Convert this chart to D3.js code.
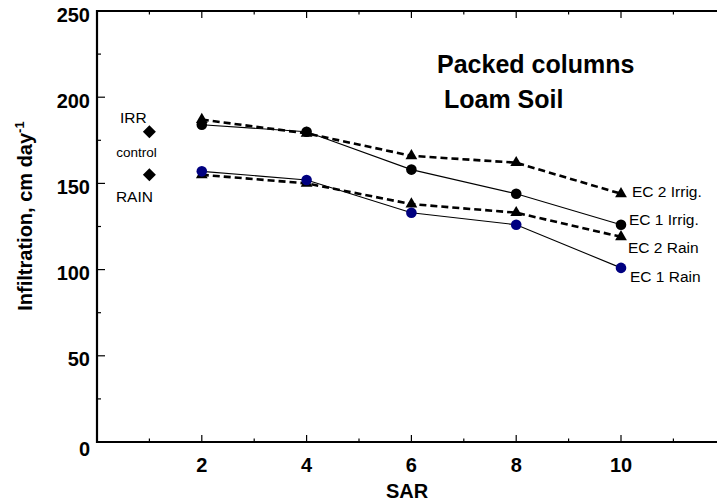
<!DOCTYPE html>
<html><head><meta charset="utf-8">
<script src="https://cdn.jsdelivr.net/npm/d3@7"></script>
<style>body{margin:0;background:#fff}svg{display:block}</style>
</head><body>
<svg id="c" width="717" height="504"></svg>
<script>
// ---- data ----
const sar = [2, 4, 6, 8, 10];
const ec2Irrig = [187, 179, 166, 162, 144];
const ec1Irrig = [184, 180, 158, 144, 126];
const ec2Rain  = [155, 150, 138, 133, 119];
const ec1Rain  = [157, 152, 133, 126, 101];
const seriesNames = ["EC 2 Irrig.", "EC 1 Irrig.", "EC 2 Rain", "EC 1 Rain"];
const controlSar = 1;
const controlValues = [180, 155];
const controlLabels = ["IRR", "RAIN"];
const controlNote = "control";
const xMajorTicks = [2, 4, 6, 8, 10];
const yMajorTicks = [0, 50, 100, 150, 200, 250];
const titleLines = ["Packed columns", "Loam Soil"];

// ---- layout ----
const svg = d3.select("#c");
const FONT = "'Liberation Sans', Arial, Helvetica, sans-serif";
const L = 97, T = 11, B = 442;
const x = d3.scaleLinear().domain([0, 12]).range([L, L + 12 * 52.4]);
const y = d3.scaleLinear().domain([0, 250]).range([B, T]);

const series = [
  {name: seriesNames[0], vals: ec2Irrig, marker: "tri", dash: true, color: "#000", lx: 11, ly: 3},
  {name: seriesNames[1], vals: ec1Irrig, marker: "circ", dash: false, color: "#000", lx: 8, ly: 0},
  {name: seriesNames[2], vals: ec2Rain, marker: "tri", dash: true, color: "#000", lx: 7, ly: 16},
  {name: seriesNames[3], vals: ec1Rain, marker: "circ", dash: false, color: "#000080", lx: 9, ly: 14}
];

// axes
const minorX = d3.range(1, 12, 2);
const minorY = d3.range(25, 250, 50);
const ax = svg.append("g").attr("stroke", "#000");
ax.append("line").attr("x1", L).attr("x2", 717).attr("y1", B).attr("y2", B).attr("stroke-width", 2.2);
ax.append("line").attr("x1", L).attr("x2", 717).attr("y1", T).attr("y2", T).attr("stroke-width", 2.2);
ax.append("line").attr("x1", L).attr("x2", L).attr("y1", T - 1).attr("y2", B + 1).attr("stroke-width", 2.2);

xMajorTicks.concat([12]).forEach(v => {
  ax.append("line").attr("x1", x(v)).attr("x2", x(v)).attr("y1", B).attr("y2", B - 7).attr("stroke-width", 1.2);
  ax.append("line").attr("x1", x(v)).attr("x2", x(v)).attr("y1", T).attr("y2", T + 7).attr("stroke-width", 1.2);
});
minorX.forEach(v => {
  ax.append("line").attr("x1", x(v)).attr("x2", x(v)).attr("y1", B).attr("y2", B - 3.5).attr("stroke-width", 1.2);
  ax.append("line").attr("x1", x(v)).attr("x2", x(v)).attr("y1", T).attr("y2", T + 3.5).attr("stroke-width", 1.2);
});
yMajorTicks.forEach(v => {
  ax.append("line").attr("x1", L).attr("x2", L + 8).attr("y1", y(v)).attr("y2", y(v)).attr("stroke-width", 1.2);
});
minorY.forEach(v => {
  ax.append("line").attr("x1", L).attr("x2", L + 4).attr("y1", y(v)).attr("y2", y(v)).attr("stroke-width", 1.2);
});

// tick labels
svg.append("g").selectAll("text").data(yMajorTicks).join("text")
  .attr("x", 90).attr("y", d => y(d) + (d === 0 ? 14 : 10.5))
  .attr("text-anchor", "end").attr("font-family", FONT).attr("font-weight", "bold")
  .attr("font-size", 20).text(d => d);
svg.append("g").selectAll("text").data(xMajorTicks).join("text")
  .attr("x", d => x(d)).attr("y", B + 30)
  .attr("text-anchor", "middle").attr("font-family", FONT).attr("font-weight", "bold")
  .attr("font-size", 20).text(d => d);

// axis titles
svg.append("text").attr("x", (L + 717) / 2).attr("y", 498).attr("text-anchor", "middle")
  .attr("font-family", FONT).attr("font-weight", "bold").attr("font-size", 20).text("SAR");
const yt = svg.append("text").attr("transform", "translate(32,216) rotate(-90)")
  .attr("text-anchor", "middle").attr("font-family", FONT).attr("font-weight", "bold").attr("font-size", 20);
yt.append("tspan").text("Infiltration, cm day");
yt.append("tspan").attr("dy", -8).attr("font-size", 13).text("-1");

// title
svg.append("text").attr("x", 437).attr("y", 73).attr("font-family", FONT).attr("font-weight", "bold")
  .attr("font-size", 25).text(titleLines[0]);
svg.append("text").attr("x", 444).attr("y", 107.5).attr("font-family", FONT).attr("font-weight", "bold")
  .attr("font-size", 25).text(titleLines[1]);

// lines
const line = d3.line().x((d, i) => x(sar[i])).y(d => y(d));
series.forEach(s => {
  svg.append("path").attr("d", line(s.vals)).attr("fill", "none").attr("stroke", "#000")
    .attr("stroke-width", s.dash ? 2.6 : 1.1)
    .attr("stroke-dasharray", s.dash ? "7,4" : null);
});
// markers: triangles first, then circles
const tri = d3.symbol().type(d3.symbolTriangle).size(60);
series.filter(s => s.marker === "tri").forEach(s => {
  svg.append("g").selectAll("path").data(s.vals).join("path")
    .attr("d", tri).attr("transform", (d, i) => `translate(${x(sar[i])},${y(d)})`)
    .attr("fill", s.color);
});
series.filter(s => s.marker === "circ").forEach(s => {
  svg.append("g").selectAll("circle").data(s.vals).join("circle")
    .attr("cx", (d, i) => x(sar[i])).attr("cy", d => y(d)).attr("r", 5.3)
    .attr("fill", s.color);
});
// series labels
series.forEach(s => {
  const last = s.vals.length - 1;
  svg.append("text").attr("x", x(sar[last]) + s.lx).attr("y", y(s.vals[last]) + s.ly)
    .attr("font-family", FONT).attr("font-size", 15.5).text(s.name);
});

// control diamonds (square rotated 45 degrees)
const h = 6.5;
svg.append("g").selectAll("path").data(controlValues).join("path")
  .attr("d", `M0,${-h}L${h},0L0,${h}L${-h},0Z`)
  .attr("transform", d => `translate(${x(controlSar)},${y(d)})`).attr("fill", "#000");
svg.append("text").attr("x", x(controlSar) - 16).attr("y", y(controlValues[0]) - 9)
  .attr("text-anchor", "middle").attr("font-family", FONT).attr("font-size", 15.5).text(controlLabels[0]);
svg.append("text").attr("x", x(controlSar) - 13).attr("y", (y(controlValues[0]) + y(controlValues[1])) / 2 + 4)
  .attr("text-anchor", "middle").attr("font-family", FONT).attr("font-size", 13.5).text(controlNote);
svg.append("text").attr("x", x(controlSar) - 15).attr("y", y(controlValues[1]) + 27)
  .attr("text-anchor", "middle").attr("font-family", FONT).attr("font-size", 15.5).text(controlLabels[1]);
</script>
</body></html>
